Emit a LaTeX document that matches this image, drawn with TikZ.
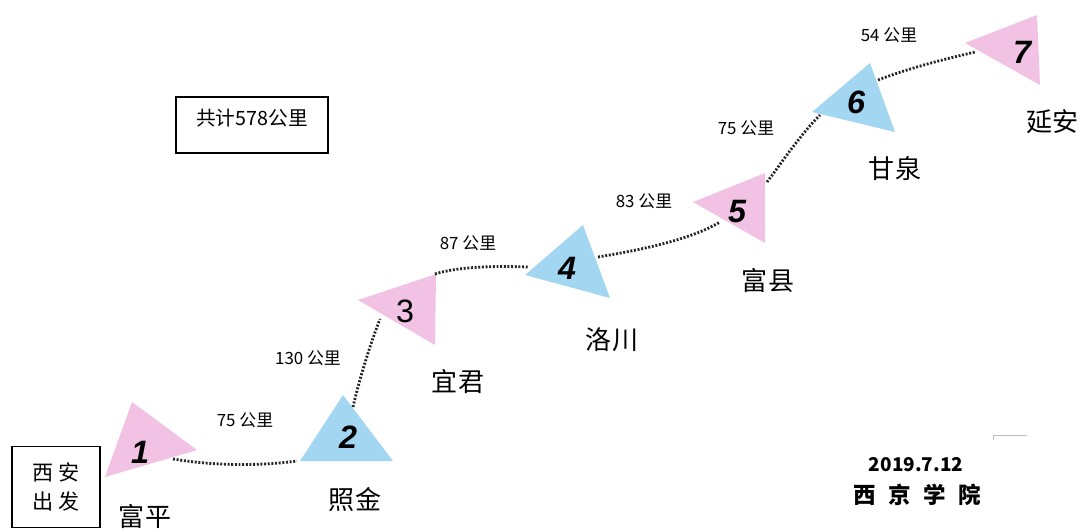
\documentclass[tikz,border=0pt]{standalone}
\usepackage{fontspec}
\setmainfont{Noto Sans CJK SC}
\newfontfamily\numfont{Liberation Sans}
\definecolor{pinktri}{RGB}{241,194,227}
\definecolor{bluetri}{RGB}{163,214,240}
\tikzstyle{route}=[line width=2pt,dash pattern=on 1.4pt off 1.2pt,black!85]
\tikzstyle{num}=[font=\numfont\bfseries\itshape\fontsize{23}{23}\selectfont,inner sep=0pt]
\tikzstyle{place}=[font=\fontsize{18.5}{19}\selectfont,inner sep=0pt]
\tikzstyle{dist}=[font=\fontsize{12}{12}\selectfont,inner sep=0pt]

\begin{document}
\begin{tikzpicture}[x=0.025cm,y=-0.025cm]
\useasboundingbox (0,0) rectangle (1083,531);
% stations
\fill[pinktri] (132,402) -- (197,450) -- (105,477) -- cycle;
\fill[bluetri] (343,395) -- (393,461) -- (300,461) -- cycle;
\fill[pinktri] (358,300) -- (436,274) -- (435,345) -- cycle;
\fill[bluetri] (583,225) -- (610,298) -- (525,275) -- cycle;
\fill[pinktri] (693,202) -- (765,173) -- (765,243) -- cycle;
\fill[bluetri] (870,63) -- (895,132) -- (812,112) -- cycle;
\fill[pinktri] (965,43) -- (1037,15) -- (1040,85) -- cycle;
\node[num] (n1) at (140,452) {1};
\node[num] (n2) at (348,437) {2};
\node[num,font=\numfont\fontsize{23}{23}\selectfont] (n3) at (405,311) {3};
\node[num] (n4) at (567,268) {4};
\node[num] (n5) at (737,212) {5};
\node[num] (n6) at (856,102) {6};
\node[num] (n7) at (1022,52) {7};
% route ends
\coordinate (o1) at (173,459);
\coordinate (i2) at (297,461);
\coordinate (o2) at (353,407);
\coordinate (i3) at (380,319);
\coordinate (o3) at (435,274);
\coordinate (i4) at (528,267);
\coordinate (o4) at (598,257);
\coordinate (i5) at (720,222);
\coordinate (o5) at (767,182);
\coordinate (i6) at (820,115);
\coordinate (o6) at (878,80);
\coordinate (i7) at (975,52);
\draw[route] (o1) .. controls (215,466) and (260,466) .. (i2);
\draw[route] (o2) .. controls (358,385) and (368,350) .. (i3);
\draw[route] (o3) .. controls (460,266) and (500,266) .. (i4);
\draw[route] (o4) .. controls (640,250) and (690,240) .. (i5);
\draw[route] (o5) .. controls (780,165) and (800,135) .. (i6);
\draw[route] (o6) .. controls (915,66) and (950,58) .. (i7);
% distances
\node[dist] (d12) at (245,420) {75 公里};
\node[dist] (d23) at (308,358) {130 公里};
\node[dist] (d34) at (468,243) {87 公里};
\node[dist] (d45) at (644,201) {83 公里};
\node[dist] (d56) at (746,128) {75 公里};
\node[dist] (d67) at (889,35) {54 公里};
% place names
\node[place] (p1) at (145,517) {富平};
\node[place] (p2) at (355,500) {照金};
\node[place] (p3) at (458,382) {宜君};
\node[place] (p4) at (612,340) {洛川};
\node[place] (p5) at (768,281) {富县};
\node[place] (p6) at (895,169) {甘泉};
\node[place] (p7) at (1052,122) {延安};
% boxes
\node[draw,line width=0.8pt,minimum width=88*0.025cm,minimum height=81*0.025cm,inner sep=0pt,
  font=\fontsize{15}{21}\selectfont,align=center] (start) at (56,487) {西\ 安\\出\ 发};
\draw[line width=0.8pt] (176,97) rectangle (328,153);
\node[font=\fontsize{14}{14}\selectfont,inner sep=0pt] (total) at (252,118) {共计578公里};
\node[font=\bfseries\fontsize{13.5}{14}\selectfont,inner sep=0pt] (date) at (916,465) {2019.7.12};
\node[font=\bfseries\fontsize{16}{16}\selectfont,inner sep=0pt] (school) at (917,495)
  {西\hspace{0.55em}京\hspace{0.55em}学\hspace{0.55em}院};
\draw[gray!50,line width=0.6pt] (993,440) -- (993,435) -- (1027,435);
\end{tikzpicture}
\end{document}
